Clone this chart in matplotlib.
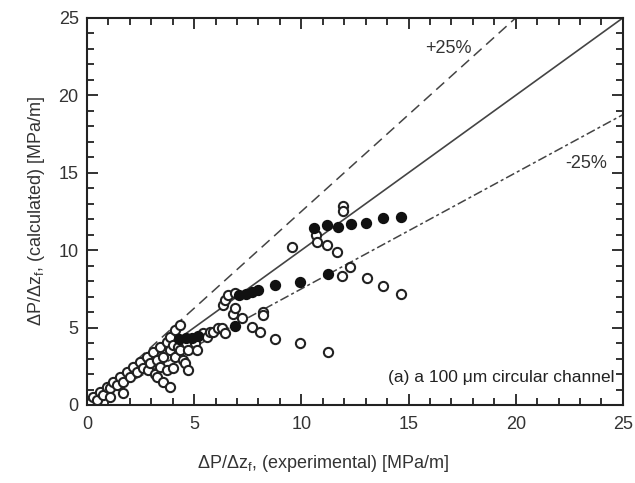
"""Calculated vs experimental frictional pressure gradient, 100 um channel."""
import matplotlib.pyplot as plt
import numpy as np
from matplotlib.ticker import MultipleLocator

plt.rcParams["font.family"] = ["Liberation Sans", "DejaVu Sans"]
plt.rcParams["mathtext.fontset"] = "custom"
plt.rcParams["mathtext.rm"] = "Liberation Sans"
plt.rcParams["mathtext.it"] = "Liberation Sans:italic"

# Open circles: (experimental, calculated) in MPa/m.
open_exp = [0.14, 0.28, 0.47, 0.6, 0.75, 0.93, 1.07, 1.07, 1.21, 1.4, 1.54,
            1.68, 1.7, 1.87, 2.0, 2.15, 2.33, 2.47, 2.61, 2.8, 2.85, 2.94,
            3.08, 3.17, 3.26, 3.26, 3.4, 3.4, 3.54, 3.54, 3.73, 3.73, 3.87,
            3.87, 3.87, 4.0, 4.0, 4.1, 4.1, 4.25, 4.34, 4.34, 4.48, 4.57,
            4.7, 4.7, 5.04, 5.13, 5.4, 5.6, 5.74, 5.88, 6.1, 6.3, 6.44,
            6.34, 6.44, 6.6, 6.9, 6.8, 6.9, 7.23, 7.7, 8.07, 8.2, 8.2,
            8.77, 9.93, 11.24, 9.56, 10.68, 10.72, 11.18, 11.66, 11.94,
            11.94, 11.9, 12.27, 13.06, 13.8, 14.65]
open_calc = [0.13, 0.52, 0.32, 0.84, 0.65, 1.16, 1.1, 0.52, 1.49, 1.29, 1.81,
             1.49, 0.77, 2.13, 1.81, 2.46, 2.13, 2.78, 2.36, 3.1, 2.26, 2.7,
             3.42, 2.0, 2.9, 1.81, 3.75, 2.46, 3.1, 1.49, 4.07, 2.26, 4.4,
             3.55, 1.16, 3.9, 2.36, 4.84, 3.1, 3.75, 5.17, 3.55, 2.9, 2.7,
             3.55, 2.26, 4.0, 3.55, 4.65, 4.4, 4.72, 4.72, 4.97, 4.97, 4.65,
             6.46, 6.8, 7.1, 7.25, 5.9, 6.25, 5.6, 5.04, 4.72, 6.0, 5.8,
             4.26, 4.0, 3.42, 10.2, 10.98, 10.5, 10.33, 9.88, 12.86,
             12.5, 8.33, 8.9, 8.2, 7.69, 7.17]

# Filled circles.
fill_exp = [4.3, 4.6, 4.9, 5.2, 6.9, 7.1, 7.4, 7.7, 8.0, 8.77, 9.93, 11.24,
            10.6, 11.2, 11.7, 12.3, 13.0, 13.8, 14.65]
fill_calc = [4.25, 4.35, 4.3, 4.45, 5.1, 7.1, 7.2, 7.3, 7.4, 7.75, 7.95, 8.46,
             11.4, 11.6, 11.5, 11.7, 11.75, 12.1, 12.15]

ref_x = np.array([0, 25])

fig = plt.figure(figsize=(6.35, 4.83), dpi=100)
ax = fig.add_axes([0.137, 0.1615, 0.844, 0.8015])

# Reference lines: perfect agreement and +/-25 %.
ax.plot(ref_x, ref_x, color="#444444", lw=1.2, zorder=1)
ax.plot(ref_x, 1.25 * ref_x, color="#444444", lw=1.1, ls=(0, (7, 4)), zorder=1)
ax.plot(ref_x, 0.75 * ref_x, color="#444444", lw=1.1, ls=(0, (6, 2, 2, 2)), zorder=1)

ax.scatter(open_exp, open_calc, s=44, facecolors="white", edgecolors="#222222",
           linewidths=1.5, zorder=2)
ax.scatter(fill_exp, fill_calc, s=44, facecolors="#111111", edgecolors="#111111",
           linewidths=1.5, zorder=3)

ax.text(16.85, 23.05, "+25%", fontsize=13, color="#333333", ha="center", va="center")
ax.text(23.3, 15.6, "-25%", fontsize=13, color="#333333", ha="center", va="center")
ax.text(24.6, 1.75, "(a) a 100 \u03bcm circular channel", fontsize=12.5,
        color="#222222", ha="right", va="center")

ax.set_xlim(0, 25)
ax.set_ylim(0, 25)
ax.xaxis.set_major_locator(MultipleLocator(5))
ax.yaxis.set_major_locator(MultipleLocator(5))
ax.xaxis.set_minor_locator(MultipleLocator(1))
ax.yaxis.set_minor_locator(MultipleLocator(1))
ax.tick_params(which="both", direction="in", top=True, right=True,
               width=1.3, colors="#222222", labelcolor="#333333")
ax.tick_params(which="major", length=8, labelsize=13)
ax.tick_params(axis="x", which="major", pad=8)
ax.tick_params(axis="y", which="major", pad=6)
ax.tick_params(which="minor", length=5)
for sp in ax.spines.values():
    sp.set_linewidth(1.5)
    sp.set_color("#222222")

ax.set_xlabel(r"$\Delta$P/$\Delta$z$_\mathrm{f}$, (experimental) [MPa/m]",
              fontsize=13, color="#333333", labelpad=12)
ax.xaxis.set_label_coords(0.44, -0.125)
ax.set_ylabel(r"$\Delta$P/$\Delta$z$_\mathrm{f}$, (calculated) [MPa/m]",
              fontsize=13, color="#333333", labelpad=8)

fig.savefig("out.png", dpi=100)
